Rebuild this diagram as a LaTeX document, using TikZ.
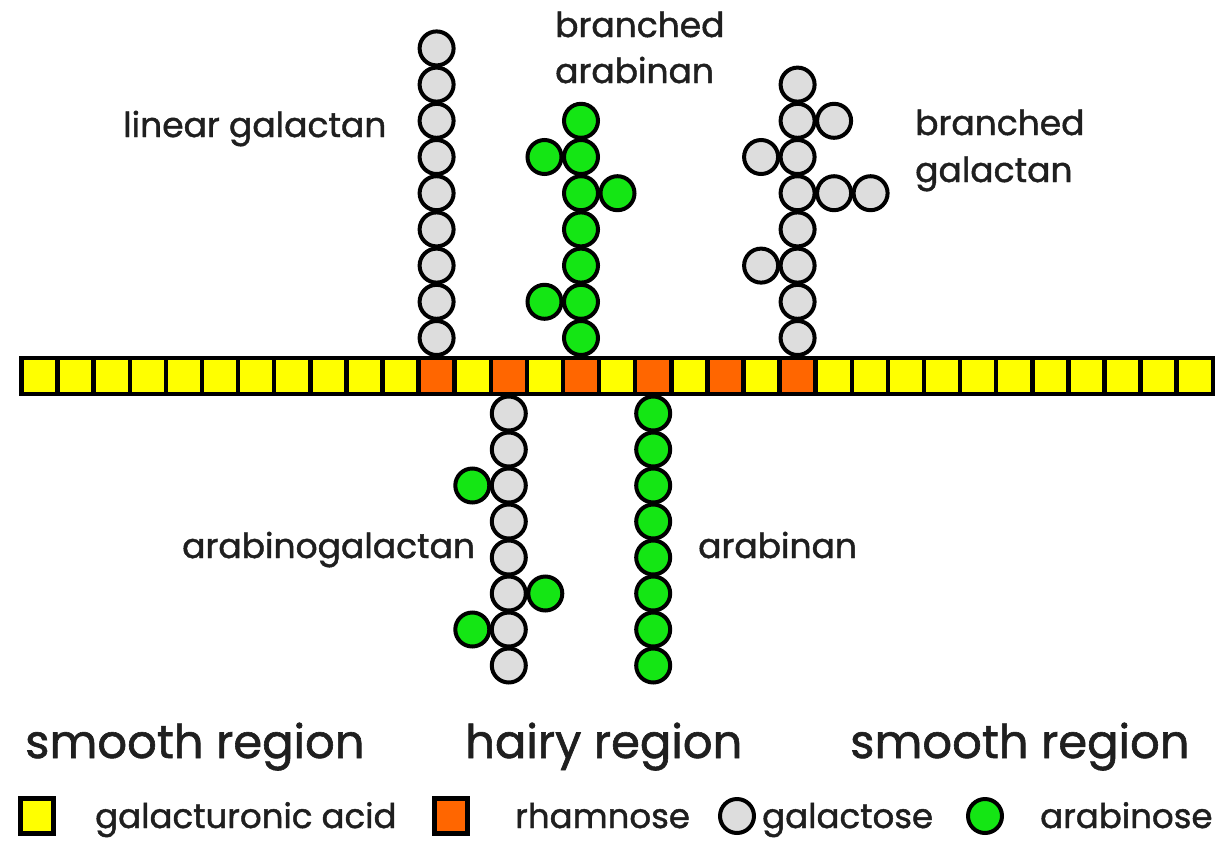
\documentclass[tikz,border=0pt]{standalone}
\usepackage{fontspec}
\setmainfont{Poppins}[UprightFeatures={FakeBold=1.3}]
\definecolor{gua}{RGB}{255,255,0}
\definecolor{rha}{RGB}{255,102,0}
\definecolor{gala}{RGB}{221,221,221}
\definecolor{arab}{RGB}{20,230,20}
\begin{document}
\begin{tikzpicture}[x=1pt,y=-1pt,
  unit/.style={draw=black,line width=4.5pt,minimum width=36.1pt,minimum height=36pt,inner sep=0pt,outer sep=0pt},
  guabox/.style={unit,fill=gua},
  rhabox/.style={unit,fill=rha},
  sugar/.style={circle,draw=black,line width=4pt,minimum size=34pt,inner sep=0pt},
  galc/.style={sugar,fill=gala},
  arac/.style={sugar,fill=arab},
  lab/.style={anchor=base west,inner sep=0pt,text=black!88,font=\fontsize{34.5}{34.5}\selectfont},
  big/.style={anchor=base west,inner sep=0pt,text=black!88,font=\fontsize{46.5}{46.5}\selectfont},
  leg/.style={anchor=base west,inner sep=0pt,text=black!88,font=\fontsize{34}{34}\selectfont}]
\useasboundingbox (0,0) rectangle (1224,841);
\fill[white] (0,0) rectangle (1224,841);
% linear galactan
\foreach \k in {0,...,8} \node[galc] (lg\k) at (436.6,{338-36.2*\k}) {};
% branched arabinan
\foreach \k in {0,...,6} \node[arac] (ba\k) at (581,{338-36.2*\k}) {};
\node[arac] (bas1) at ([xshift=-36.5pt]ba1) {};
\node[arac] (bas4) at ([xshift=36.5pt]ba4) {};
\node[arac] (bas5) at ([xshift=-36.5pt]ba5) {};
% branched galactan
\foreach \k in {0,...,7} \node[galc] (bg\k) at (797.6,{338-36.2*\k}) {};
\node[galc] (bgs6) at ([xshift=36.5pt]bg6) {};
\node[galc] (bgs5) at ([xshift=-36.5pt]bg5) {};
\node[galc] (bgs4a) at ([xshift=36.5pt]bg4) {};
\node[galc] (bgs4b) at ([xshift=73pt]bg4) {};
\node[galc] (bgs2) at ([xshift=-36.5pt]bg2) {};
% arabinogalactan
\foreach \k in {0,...,7} \node[galc] (ag\k) at (508.8,{413.5+36*\k}) {};
\node[arac] (ags2) at ([xshift=-36.5pt]ag2) {};
\node[arac] (ags5) at ([xshift=36.5pt]ag5) {};
\node[arac] (ags6) at ([xshift=-36.5pt]ag6) {};
% arabinan
\foreach \k in {0,...,7} \node[arac] (ar\k) at (653.2,{413.5+36*\k}) {};
% backbone
\foreach \i in {0,...,32} {
  \pgfmathtruncatemacro{\isr}{(\i==11)||(\i==13)||(\i==15)||(\i==17)||(\i==19)||(\i==21)}
  \ifnum\isr=1
    \node[rhabox] (bb\i) at ({39.5+36.1*\i},376) {};
  \else
    \node[guabox] (bb\i) at ({39.5+36.1*\i},376) {};
  \fi
}
% labels
\node[lab] (tlg) at (123,137) {linear galactan};
\node[lab] (tba1) at (555,37) {branched};
\node[lab] (tba2) at (555,83) {arabinan};
\node[lab] (tbg1) at (915,135) {branched};
\node[lab] (tbg2) at (915,182) {galactan};
\node[lab] (tag) at (182,558) {arabinogalactan};
\node[lab] (tar) at (698,558) {arabinan};
\node[big] (tsm1) at (25,758) {smooth region};
\node[big] (thr) at (465,758) {hairy region};
\node[big] (tsm2) at (850,758) {smooth region};
% legend
\node[guabox,minimum width=33pt,minimum height=35pt] (lgua) at (37,816) {};
\node[leg] (tgua) at (95,828) {galacturonic acid};
\node[rhabox,minimum width=33pt,minimum height=35pt] (lrha) at (451,816) {};
\node[leg] (trha) at (515,828) {rhamnose};
\node[galc] (lgal) at (737,816) {};
\node[leg] (tgal) at (762,828) {galactose};
\node[arac] (lara) at (985,816) {};
\node[leg] (tara) at (1040,828) {arabinose};
\end{tikzpicture}
\end{document}
